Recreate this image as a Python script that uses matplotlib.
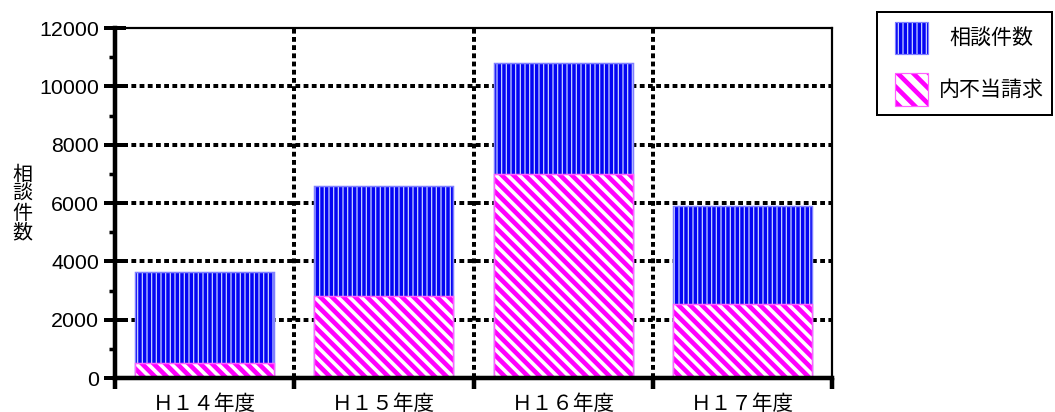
import matplotlib
matplotlib.use("Agg")
import matplotlib.pyplot as plt
from matplotlib.patches import Rectangle

plt.rcParams['font.family'] = ['Liberation Sans', 'Noto Sans CJK JP', 'DejaVu Sans']

# ---- data ----
categories = ['Ｈ１４年度', 'Ｈ１５年度', 'Ｈ１６年度', 'Ｈ１７年度']
consult_counts = [3650, 6600, 10800, 5900]
improper_claims = [500, 2800, 7000, 2530]
y_ticks = [0, 2000, 4000, 6000, 8000, 10000, 12000]
series_labels = ['相談件数', '内不当請求']
y_label = '相談件数'

DPI = 140
W, H = 1055, 412
PX = 72.0 / DPI  # points per pixel

fig = plt.figure(figsize=(W / DPI, H / DPI), dpi=DPI)
ax = fig.add_axes([115 / W, (H - 378) / H, (832 - 115) / W, (378 - 28) / H])

x = list(range(len(categories)))
bw = 0.775

BLUE = '#0404f4'
BLUE_HATCH = '#d0d8ff'
MAG = '#ff00ff'
BLUE_HLW = 1.2 * PX
MAG_HLW = 4.6 * PX
BLUE_HATCH_PAT = '|||||'
MAG_HATCH_PAT = '\\' * 4


def set_hlw(patches, lw):
    for p in patches:
        if hasattr(p, 'set_hatch_linewidth'):
            p.set_hatch_linewidth(lw)


with plt.rc_context({'hatch.linewidth': BLUE_HLW}):
    b1 = ax.bar(x, consult_counts, width=bw, color=BLUE, edgecolor=BLUE_HATCH,
                hatch=BLUE_HATCH_PAT, linewidth=0, zorder=3)
set_hlw(b1, BLUE_HLW)
ax.bar(x, consult_counts, width=bw, facecolor='none', edgecolor='#8080ff',
       linewidth=1.5 * PX, zorder=3.5)

with plt.rc_context({'hatch.linewidth': MAG_HLW}):
    b2 = ax.bar(x, improper_claims, width=bw, color='white', edgecolor=MAG,
                hatch=MAG_HATCH_PAT, linewidth=0, zorder=4)
set_hlw(b2, MAG_HLW)
ax.bar(x, improper_claims, width=bw, facecolor='none', edgecolor='#ff60ff',
       linewidth=1.5 * PX, zorder=4.5)

ax.set_xlim(-0.5, len(categories) - 0.5)
ax.set_ylim(y_ticks[0], y_ticks[-1])

dot = (0, (1.2, 0.85))
for yv in y_ticks[1:-1]:
    ax.axhline(yv, color='black', lw=4 * PX, linestyle=dot, zorder=1)
for xv in [i + 0.5 for i in x[:-1]]:
    ax.axvline(xv, color='black', lw=4 * PX, linestyle=dot, zorder=1)

# ticks
ax.set_yticks(y_ticks)
ax.set_yticks([v + 1000 for v in y_ticks[:-1]], minor=True)
ax.tick_params(axis='y', which='major', direction='inout', length=22 * PX,
               width=4 * PX, labelsize=11, pad=5 * PX)
ax.tick_params(axis='y', which='minor', direction='out', length=6 * PX,
               width=3.5 * PX)

ax.set_xticks([i - 0.5 for i in range(len(categories) + 1)])
ax.set_xticklabels([])
ax.set_xticks(x, minor=True)
ax.set_xticklabels(categories, minor=True)
ax.tick_params(axis='x', which='major', direction='out', length=11 * PX,
               width=4.5 * PX)
ax.tick_params(axis='x', which='minor', length=0, labelsize=10.6, pad=16 * PX)

ax.spines['left'].set_linewidth(4.5 * PX)
ax.spines['bottom'].set_linewidth(4.5 * PX)
ax.spines['top'].set_linewidth(2.2 * PX)
ax.spines['right'].set_linewidth(2.2 * PX)
for s in ax.spines.values():
    s.set_zorder(6)

# y label (vertical stacked)
fig.text(22 / W, 1 - 204 / H, '\n'.join(y_label), ha='center', va='center',
         fontsize=10.3, linespacing=1.0)

# legend drawn in pixel-space overlay
lax = fig.add_axes([0, 0, 1, 1], zorder=10)
lax.set_xlim(0, W)
lax.set_ylim(H, 0)
lax.axis('off')
lax.add_patch(Rectangle((877, 12), 175, 103, facecolor='white',
                        edgecolor='black', lw=2 * PX))
with plt.rc_context({'hatch.linewidth': BLUE_HLW}):
    r1 = Rectangle((895, 22), 33, 32, facecolor=BLUE, edgecolor=BLUE_HATCH,
                   hatch=BLUE_HATCH_PAT, lw=0)
set_hlw([r1], BLUE_HLW)
lax.add_patch(r1)
lax.add_patch(Rectangle((895, 22), 33, 32, facecolor='none',
                        edgecolor='#8080ff', lw=1.2 * PX))
with plt.rc_context({'hatch.linewidth': MAG_HLW}):
    r2 = Rectangle((895, 73), 33, 33, facecolor='white', edgecolor=MAG,
                   hatch='\\' * 3, lw=0)
set_hlw([r2], MAG_HLW)
lax.add_patch(r2)
lax.add_patch(Rectangle((895, 73), 33, 33, facecolor='none',
                        edgecolor='#ff60ff', lw=1.2 * PX))
lax.text(991, 38, series_labels[0], ha='center', va='center', fontsize=10.8)
lax.text(991, 90, series_labels[1], ha='center', va='center', fontsize=10.8)

fig.savefig('out.png', dpi=DPI)
